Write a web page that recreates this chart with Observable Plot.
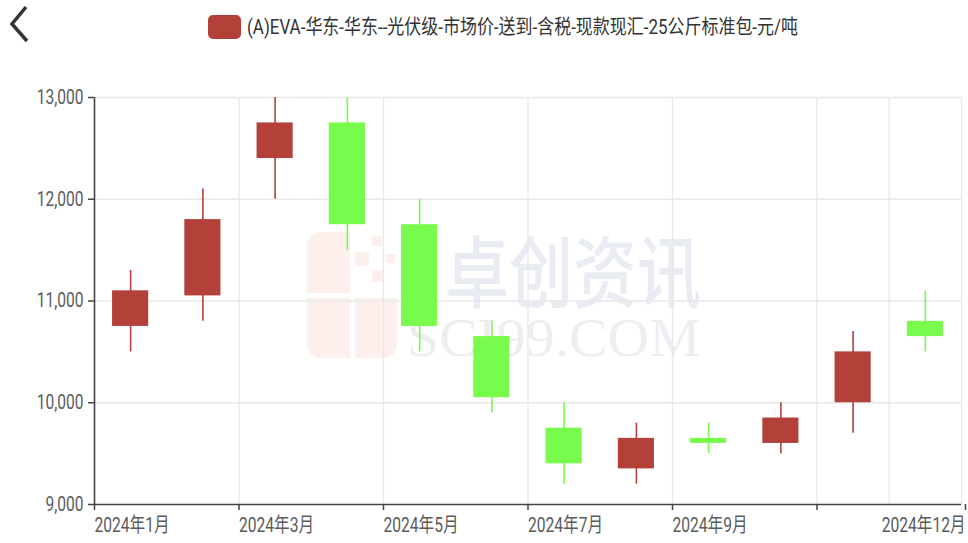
<!DOCTYPE html>
<html>
<head>
<meta charset="utf-8">
<script src="https://cdn.jsdelivr.net/npm/d3@7"></script>
<script src="https://cdn.jsdelivr.net/npm/@observablehq/plot@0.6"></script>
<style>
  body { margin: 0; background: #fff; font-family: Roboto, "Noto Sans CJK SC", sans-serif; }
  #wrap { position: relative; width: 968px; height: 543px; overflow: hidden; background: #fff; }
  #header { position: relative; height: 60px; z-index: 2; }
  #back { position: absolute; left: 0; top: 0; }
  #legend { position: absolute; left: 208px; top: 15px; height: 24px; }
  #legend .sw { position: absolute; left: 0; top: 0; width: 33px; height: 24px; border-radius: 5px; background: #b4403a; }
  #legend .lt { position: absolute; left: 39px; top: -1px; font-size: 20px; line-height: 26px; color: #333; white-space: nowrap; transform-origin: left center; }
  #chart { position: relative; z-index: 1; }
  #wm { position: absolute; left: 0; top: 0; width: 968px; height: 543px; z-index: 0; }
  .wm1 { position: absolute; left: 445px; top: 229px; font-family: "Noto Sans CJK SC"; font-weight: 500; font-size: 78px; line-height: 1; color: #e9edf3; white-space: nowrap; transform: scaleX(0.82); transform-origin: left top; }
  .wm2 { position: absolute; left: 407px; top: 310px; font-family: "Liberation Serif", serif; font-size: 55px; line-height: 1; color: #eceef2; white-space: nowrap; transform: scaleX(1.05); transform-origin: left top; }
  .lg { position: absolute; background: #fcefec; }
</style>
</head>
<body>
<div id="wrap">
  <div id="wm">
    <div class="lg" style="left:307px;top:232px;width:43px;height:61px;border-top-left-radius:14px;"></div>
    <div class="lg" style="left:307px;top:298px;width:43px;height:60px;border-bottom-left-radius:14px;"></div>
    <div class="lg" style="left:355px;top:298px;width:42px;height:60px;border-bottom-right-radius:14px;"></div>
    <div class="lg" style="left:355px;top:252px;width:14px;height:14px;"></div>
    <div class="lg" style="left:372px;top:236px;width:10px;height:10px;"></div>
    <div class="lg" style="left:372px;top:270px;width:12px;height:12px;"></div>
    <div class="lg" style="left:386px;top:254px;width:9px;height:9px;"></div>
    <div class="wm1">卓创资讯</div>
    <div class="wm2">SCI99.COM</div>
  </div>
  <div id="header">
    <svg id="back" width="40" height="50"><polyline points="26,7 12,24 27,41" fill="none" stroke="#333" stroke-width="3.5"/></svg>
    <div id="legend"><span class="sw"></span><span class="lt" id="lt"></span></div>
  </div>
  <div id="chart"></div>
</div>
<script>
const seriesName = "(A)EVA-华东-华东--光伏级-市场价-送到-含税-现款现汇-25公斤标准包-元/吨";
const months = ["2024-01","2024-02","2024-03","2024-04","2024-05","2024-06","2024-07","2024-08","2024-09","2024-10","2024-11","2024-12"];
const openVals  = [10750, 11050, 12400, 12750, 11750, 10650, 9750, 9350, 9650, 9600, 10000, 10800];
const closeVals = [11100, 11800, 12750, 11750, 10750, 10050, 9400, 9650, 9600, 9850, 10500, 10650];
const lowVals   = [10500, 10800, 12000, 11500, 10500, 9900, 9200, 9200, 9500, 9500, 9700, 10500];
const highVals  = [11300, 12100, 13000, 13000, 12000, 10800, 10000, 9800, 9800, 10000, 10700, 11100];
const yTicks = [9000, 10000, 11000, 12000, 13000];
const xTickPos = [0, 2, 4, 6, 8, 10, 12];
const xTickLabels = ["2024年1月","2024年3月","2024年5月","2024年7月","2024年9月","","2024年12月"];
const xGridPos = [2, 4, 6, 8, 10, 11, 12];

const RED = "#b4403a", GREEN = "#78fb4c";
const data = months.map((m, i) => ({i, month: m, open: openVals[i], close: closeVals[i], low: lowVals[i], high: highVals[i]}));
const col = d => d.close >= d.open ? RED : GREEN;
const lab = d => xTickLabels[xTickPos.indexOf(d)];

const chart = Plot.plot({
  width: 968, height: 483,
  marginTop: 37, marginBottom: 39, marginLeft: 94, marginRight: 7,
  style: {background: "transparent", fontFamily: 'Roboto, "Noto Sans CJK SC", sans-serif', fontSize: "20px", color: "#5b5b5b"},
  x: {type: "linear", domain: [0, months.length]},
  y: {domain: [9000, 13000]},
  marks: [
    Plot.gridY(yTicks.slice(1), {stroke: "#e8e8e8", strokeOpacity: 1, strokeWidth: 1.3}),
    Plot.gridX(xGridPos, {stroke: "#e8e8e8", strokeOpacity: 1, strokeWidth: 1.3}),
    Plot.ruleX(data, {x: d => d.i + 0.5, y1: "low", y2: "high", stroke: col, strokeWidth: 1.6}),
    Plot.rect(data, {x1: d => d.i + 0.25, x2: d => d.i + 0.75, y1: "open", y2: "close", fill: col}),
    Plot.ruleX([0], {stroke: "#444", strokeWidth: 1.6}),
    Plot.ruleY([9000], {stroke: "#444", strokeWidth: 1.6}),
    Plot.axisY(yTicks, {tickSize: 6, tickPadding: 5, stroke: "#444", strokeWidth: 1.5, fill: "#5b5b5b", tickFormat: d3.format(","), label: null}),
    Plot.axisX(xTickPos.slice(0, -1), {tickSize: 6, tickPadding: 7, stroke: "#444", strokeWidth: 1.5, fill: "#5b5b5b", textAnchor: "start", tickFormat: lab, label: null}),
    Plot.axisX(xTickPos.slice(-1), {tickSize: 6, tickPadding: 7, stroke: "#444", strokeWidth: 1.5, fill: "#5b5b5b", textAnchor: "end", dx: 4, tickFormat: lab, label: null})
  ]
});
chart.querySelectorAll("text").forEach(t => {
  let tr = t.getAttribute("transform") || "";
  const x = t.getAttribute("x");
  if (x != null) { tr += ` translate(${x},0)`; t.removeAttribute("x"); }
  t.setAttribute("transform", tr + " scale(0.78,1)");
});
document.getElementById("chart").appendChild(chart);

const lt = document.getElementById("lt");
lt.textContent = seriesName;
const w = lt.getBoundingClientRect().width;
lt.style.transform = `scaleX(${551 / w})`;
</script>
</body>
</html>
